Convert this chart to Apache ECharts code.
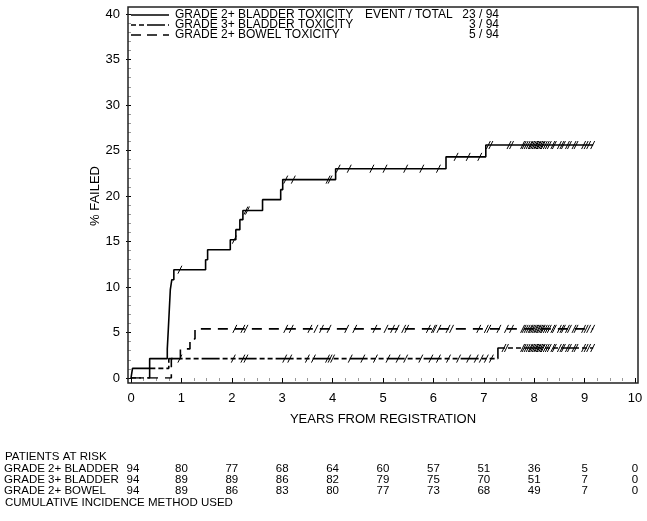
<!DOCTYPE html>
<html>
<head>
<meta charset="utf-8">
<script src="https://cdn.jsdelivr.net/npm/echarts@6/dist/echarts.min.js"></script>
<style>
  html, body { margin: 0; padding: 0; background: #fff; }
  #chart { width: 647px; height: 521px; }
</style>
</head>
<body>
<div id="chart"></div>
<script>
// step curves: time of each jump (years) and % failed after it
var bladder2Times = [0, 0.03, 0.37, 0.72, 0.74, 0.76, 0.78, 0.81, 0.85, 1.48, 1.52, 1.97, 2.08, 2.16, 2.22, 2.61, 2.97, 3.01, 4.06, 6.25, 7.04, 9.17];
var bladder2Pct   = [0, 1.06, 2.13, 3.2, 5.3, 7.5, 9.7, 10.8, 11.9, 13.0, 14.1, 15.2, 16.3, 17.4, 18.4, 19.6, 20.7, 21.8, 23.0, 24.3, 25.6, 25.6];
var bladder3Times = [0, 0.37, 0.75, 7.28, 9.17];
var bladder3Pct   = [0, 1.06, 2.13, 3.3, 3.3];
var bowel2Times   = [0, 0.80, 0.98, 1.17, 1.27, 9.17];
var bowel2Pct     = [0, 2.13, 3.2, 4.3, 5.4, 5.4];

// censored observations (years)
var bladder2Censor = [0.97, 2.05, 2.28, 2.31, 3.07, 3.22, 3.91, 3.95, 4.11, 4.33, 4.78, 5.04, 5.45, 5.77, 6.10, 6.45, 6.69, 6.92, 7.09, 7.14, 7.50, 7.55];
var bladder3Censor = [0.97, 2.03, 2.22, 2.28, 3.05, 3.15, 3.50, 3.62, 3.90, 3.95, 4.00, 4.35, 4.60, 4.85, 5.10, 5.30, 5.45, 5.75, 5.95, 6.10, 6.30, 6.50, 6.70, 6.85, 6.95, 7.05, 7.15, 7.40, 7.45];
var bowel2Censor   = [2.06, 2.22, 2.28, 3.07, 3.18, 3.55, 3.67, 3.78, 3.93, 4.28, 4.44, 4.84, 5.06, 5.19, 5.28, 5.41, 5.47, 5.90, 6.00, 6.03, 6.11, 6.29, 6.36, 6.90, 7.05, 7.10, 7.30, 7.45, 7.55];
var lateCensor     = [7.77, 7.80, 7.84, 7.88, 7.92, 7.94, 7.97, 8.00, 8.03, 8.05, 8.08, 8.10, 8.13, 8.16, 8.18, 8.22, 8.26, 8.30, 8.37, 8.40, 8.50, 8.55, 8.58, 8.66, 8.70, 8.79, 8.83, 8.98, 9.03, 9.08, 9.16];

// patients at risk
var riskTimes    = [0, 1, 2, 3, 4, 5, 6, 7, 8, 9, 10];
var riskBladder2 = [94, 80, 77, 68, 64, 60, 57, 51, 36, 5, 0];
var riskBladder3 = [94, 89, 89, 86, 82, 79, 75, 70, 51, 7, 0];
var riskBowel2   = [94, 89, 86, 83, 80, 77, 73, 68, 49, 7, 0];

var FONT = "'Liberation Sans', Arial, sans-serif";

function pairs(ts, vs) {
    var out = [];
    for (var i = 0; i < ts.length; i++) out.push([ts[i], vs[i]]);
    return out;
}
function levelAt(ts, vs, t) {
    var v = vs[0];
    for (var i = 0; i < ts.length; i++) { if (ts[i] <= t) v = vs[i]; }
    return v;
}
function marks(ts, vs, cens) {
    var out = [];
    var all = cens.concat(lateCensor);
    for (var i = 0; i < all.length; i++) out.push([all[i], levelAt(ts, vs, all[i])]);
    return out;
}
function slash(params, api) {
    var p = api.coord([api.value(0), api.value(1)]);
    return {
        type: 'line',
        shape: { x1: p[0] - 2, y1: p[1] + 4, x2: p[0] + 2, y2: p[1] - 4 },
        style: { stroke: '#000', lineWidth: 1 }
    };
}
function stepLine(name, ts, vs, dash) {
    return {
        name: name, type: 'line', step: 'end', symbol: 'none', silent: true,
        lineStyle: { color: '#000', width: 1.6, type: dash },
        data: pairs(ts, vs)
    };
}

var chart = echarts.init(document.getElementById('chart'));
var axisTxt = { color: '#000', fontSize: 13, fontFamily: FONT };

chart.setOption({
    animation: false,
    grid: { left: 131, right: 12, top: 14, bottom: 143 },
    xAxis: {
        type: 'value', min: 0, max: 10, interval: 1, offset: 5,
        name: 'YEARS FROM REGISTRATION', nameLocation: 'middle', nameGap: 30,
        nameMoveOverlap: false,
        nameTextStyle: axisTxt,
        axisLine: { show: false },
        axisTick: { show: true, length: 5, lineStyle: { color: '#000' } },
        minorTick: { show: true, splitNumber: 4, length: 3, lineStyle: { color: '#999' } },
        axisLabel: Object.assign({ margin: 9 }, axisTxt),
        splitLine: { show: false }
    },
    yAxis: {
        type: 'value', min: 0, max: 40, interval: 5, offset: 3,
        name: '% FAILED', nameLocation: 'middle', nameGap: 26,
        nameMoveOverlap: false,
        nameTextStyle: axisTxt,
        axisLine: { show: false },
        axisTick: { show: true, length: 5, lineStyle: { color: '#000' } },
        minorTick: { show: true, splitNumber: 5, length: 3, lineStyle: { color: '#999' } },
        axisLabel: Object.assign({ margin: 8 }, axisTxt),
        splitLine: { show: false }
    },
    series: [
        stepLine('GRADE 2+ BLADDER TOXICITY', bladder2Times, bladder2Pct, 'solid'),
        stepLine('GRADE 3+ BLADDER TOXICITY', bladder3Times, bladder3Pct, [5, 3, 5, 3, 18, 3]),
        stepLine('GRADE 2+ BOWEL TOXICITY', bowel2Times, bowel2Pct, [10, 7]),
        { type: 'custom', renderItem: slash, silent: true, data: marks(bladder2Times, bladder2Pct, bladder2Censor) },
        { type: 'custom', renderItem: slash, silent: true, data: marks(bladder3Times, bladder3Pct, bladder3Censor) },
        { type: 'custom', renderItem: slash, silent: true, data: marks(bowel2Times, bowel2Pct, bowel2Censor) }
    ]
});

// frame, legend block and the at-risk table
var g = [];
g.push({ type: 'rect', shape: { x: 128, y: 7, width: 510, height: 376 },
         style: { fill: 'none', stroke: '#222', lineWidth: 1.5 }, z: 10 });

var legendRows = [
    { label: 'GRADE 2+ BLADDER TOXICITY', count: '23 / 94', dash: null },
    { label: 'GRADE 3+ BLADDER TOXICITY', count: '3 / 94', dash: [5, 3, 5, 3, 18, 3] },
    { label: 'GRADE 2+ BOWEL TOXICITY', count: '5 / 94', dash: [10, 6] }
];
legendRows.forEach(function (r, i) {
    var y = 15 + i * 10;
    g.push({ type: 'line', shape: { x1: 131, y1: y, x2: 169, y2: y },
             style: { stroke: '#000', lineWidth: 1.6, lineDash: r.dash } });
    g.push({ type: 'text', x: 175, y: y,
             style: { text: r.label, fill: '#000', font: '12px ' + FONT, textVerticalAlign: 'middle' } });
    g.push({ type: 'text', x: 499, y: y,
             style: { text: r.count, fill: '#000', font: '12px ' + FONT, textAlign: 'right', textVerticalAlign: 'middle' } });
});
g.push({ type: 'text', x: 365, y: 15,
         style: { text: 'EVENT / TOTAL', fill: '#000', font: '12px ' + FONT, textVerticalAlign: 'middle' } });

function tableText(txt, x, y, align) {
    g.push({ type: 'text', x: x, y: y,
             style: { text: txt, fill: '#000', font: '11.5px ' + FONT, textAlign: align || 'left', textVerticalAlign: 'middle' } });
}
tableText('PATIENTS AT RISK', 5, 457);
var rows = [['GRADE 2+ BLADDER', riskBladder2], ['GRADE 3+ BLADDER', riskBladder3], ['GRADE 2+ BOWEL', riskBowel2]];
rows.forEach(function (r, i) {
    var y = 469 + i * 11;
    tableText(r[0], 4, y);
    for (var k = 0; k < riskTimes.length; k++) {
        var x = chart.convertToPixel({ xAxisIndex: 0 }, riskTimes[k]);
        tableText(String(r[1][k]), k === 0 ? x + 2 : x, y, 'center');
    }
});
tableText('CUMULATIVE INCIDENCE METHOD USED', 5, 503);

chart.setOption({ graphic: g });
</script>
</body>
</html>
